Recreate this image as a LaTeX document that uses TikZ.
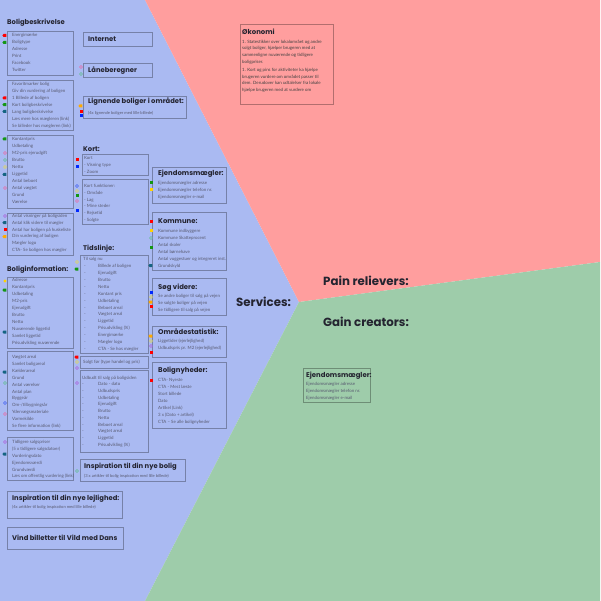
\documentclass[tikz,border=0pt]{standalone}
\usepackage{fontspec}
\setmainfont{Lato}
\newfontfamily\headfont{Poppins}
\usetikzlibrary{shapes.symbols}

\definecolor{bgblue}{RGB}{170,186,242}
\definecolor{bgpink}{RGB}{255,158,158}
\definecolor{bggreen}{RGB}{158,204,170}
\definecolor{itemc}{RGB}{88,90,112}
\definecolor{headc}{RGB}{36,36,48}
\definecolor{mred}{RGB}{255,0,0}
\definecolor{mgreen}{RGB}{20,150,20}
\definecolor{mblue}{RGB}{0,40,255}
\definecolor{myellow}{RGB}{255,210,0}
\definecolor{morange}{RGB}{255,170,0}
\definecolor{mteal}{RGB}{20,100,130}
\definecolor{mpink}{RGB}{230,110,170}
\definecolor{mmint}{RGB}{100,190,150}
\definecolor{mpale}{RGB}{225,215,90}
\definecolor{mpurple}{RGB}{170,100,220}
\definecolor{mlblue}{RGB}{70,100,240}

\tikzset{
  panel/.style={draw=black, draw opacity=0.3, line width=0.7pt, inner sep=0pt, anchor=north west},
  item/.style={anchor=base west, inner sep=0pt, text=itemc, font=\fontsize{4.4}{5}\selectfont},
  note/.style={item, font=\fontsize{4.1}{5}\selectfont},
  okotext/.style={item, text=black!75, font=\fontsize{4.4}{5}\selectfont},
  head/.style={anchor=base west, inner sep=0pt, text=headc, font=\headfont\bfseries\fontsize{6.8}{8}\selectfont},
  bighead/.style={head, font=\headfont\bfseries\fontsize{6.9}{8}\selectfont},
  hugehead/.style={head, font=\headfont\bfseries\fontsize{11.8}{13}\selectfont},
  flag/.style={shape=signal, signal to=west, signal pointer angle=100, fill=#1, minimum width=4pt, minimum height=3pt, inner sep=0pt},
  dot/.style={rectangle, fill=#1, minimum size=3pt, inner sep=0pt},
  ring/.style={circle, draw=#1, line width=0.5pt, minimum size=3pt, inner sep=0pt},
}

% box from (x1,y1) to (x2,y2)
\newcommand\panelbox[5]{\node[panel, minimum width={#4-#2}, minimum height={#5-#3}] (#1) at (#2,#3) {};}
% list of entries: name, x, centre of first line, line step, entries
\newcommand\itemlist[5]{\foreach \t [count=\i] in {#5} \node[item] (#1-\i) at (#2,{#3+1.5+#4*(\i-1)}) {\t};}
% dashes in front of indented entries
\newcommand\dashlist[5]{\foreach \i in {1,...,#5} \node[item] (#1-\i) at (#2,{#3+1.5+#4*(\i-1)}) {-};}

\begin{document}
\begin{tikzpicture}[x=1pt,y=-1pt]
\useasboundingbox (0,0) rectangle (600,601);

% three coloured fields
\fill[bgblue] (0,0) -- (145,0) -- (299,302) -- (145,601) -- (0,601) -- cycle;
\fill[bgpink] (145,0) -- (600,0) -- (600,262) -- (299,302) -- cycle;
\fill[bggreen] (299,302) -- (600,262) -- (600,601) -- (145,601) -- cycle;

% ---------- left column ----------
\node[head] (t-bb) at (7,24.3) {Boligbeskrivelse};
\panelbox{b1}{7}{31}{73}{75.5}
\itemlist{b1}{12}{35.3}{6.9}{Energimærke,Boligtype,Adresse,Print,Facebook,Twitter}
\panelbox{b2}{7}{80.5}{73}{130}
\itemlist{b2}{12}{84}{6.95}{Favoritmarker bolig,Giv din vurdering af boligen,1 Billede af boligen,Kort boligbeskrivelse,Lang boligbeskrivelse,Læs mere hos mægleren (link),Se billeder hos mægleren (link)}
\panelbox{b3}{7}{135.3}{73}{208.3}
\itemlist{b3}{12}{139}{7}{Kontantpris,Udbetaling,M2-pris ejerudgift,Brutto,Netto,Liggetid,Antal beboet,Antal vægtet,Grund,Værelse}
\panelbox{b4}{7}{212.7}{73}{255}
\itemlist{b4}{12}{216}{6.8}{Antal visninger på boligsiden,Antal klik videre til mægler,Antal har  boligen på huskeliste,Din vurdering af boligen,Mægler logo,CTA- Se boligen hos mægler}

\node[head] (t-bi) at (7,271.3) {Boliginformation:};
\panelbox{b5}{7}{277}{73}{347.5}
\itemlist{b5}{12}{280}{7}{Adresse,Kontantpris,Udbetaling,M2-pris,Ejerudgift,Brutto,Netto,Nuværende liggetid,Samlet liggetid,Prisudvikling nuværende}
\panelbox{b6}{7}{351}{73}{430}
\itemlist{b6}{12}{357}{6.9}{Vægtet areal,Samlet boligareal,Kælderareal,Grund,Antal værelser,Antal plan,Byggeår,Om-/tilbygningsår,Ydervægsmateriale,Varmekilde,Se flere information (link)}
\panelbox{b7}{7}{437}{73}{480}
\itemlist{b7}{12}{442.3}{6.8}{Tidligere salgspriser,(5 x tidligere salgsdatoer),Vurderingsdato,Ejendomsværdi,Grundværdi,Læs om offentlig vurdering (link)}

\panelbox{b8}{7}{491}{122}{518}
\node[head] (b8-h) at (12,500.3) {Inspiration til din nye lejlighed:};
\node[note] (b8-n) at (12,508.5) {(4x artikler til bolig inspiration med lille billede)};
\panelbox{b9}{7}{527}{123}{549}
\node[head] (b9-h) at (12,540.6) {Vind billetter til Vild med Dans};

% ---------- middle column ----------
\panelbox{net}{83}{32}{152}{46}
\node[head] (net-h) at (88,41.3) {Internet};
\panelbox{lan}{83}{63}{152}{77}
\node[head] (lan-h) at (88,72.3) {Låneberegner};
\panelbox{lig}{83}{96}{186}{118}
\node[head] (lig-h) at (88,104) {Lignende boliger i området:};
\node[note] (lig-n) at (88,114.2) {(4x lignende boliger med lille billede)};

\node[head] (t-kort) at (83,151.3) {Kort:};
\panelbox{kort}{82}{154}{148}{175}
\itemlist{kort}{84}{158.3}{6.9}{Kort,- Visning type,- Zoom}
\panelbox{kfun}{82}{179}{148}{224}
\itemlist{kfun}{84}{186}{6.8}{Kort funktioner:,- Område,- Lag,- Mine steder,- Rejsetid,- Solgte}

\node[head] (t-tl) at (83,250.6) {Tidslinje:};
\panelbox{tl}{80}{255}{148}{353}
\node[item] (tl-h) at (83,260.5) {Til salg nu};
\dashlist{tl-d}{84}{266}{6.92}{13}
\itemlist{tl}{98}{266}{6.92}{Billede af boligen,Ejerudgift,Brutto,Netto,Kontant pris,Udbetaling,Beboet areal,Vægtet areal,Liggetid,Prisudvikling (\%),Energimærke,Mægler logo,CTA - Se hos mægler}
\panelbox{solgt}{80}{356}{148}{368}
\node[item] (solgt-h) at (83,363.5) {Solgt før (type handel og pris)};
\panelbox{udb}{80}{370}{148}{452}
\node[item] (udb-h) at (82,379.2) {Udbudt til salg på boligsiden};
\dashlist{udb-d}{82}{384}{6.75}{10}
\itemlist{udb}{98}{384}{6.75}{Dato - dato,Udbudspris,Udbetaling,Ejerudgift,Brutto,Netto,Beboet areal,Vægtet areal,Liggetid,Prisudvikling (\%)}
\panelbox{insp}{80}{459}{185}{481}
\node[head] (insp-h) at (84,468.3) {Inspiration til din nye bolig};
\node[note] (insp-n) at (84,477.5) {(3 x artikler til bolig inspiration med lille billede)};

% ---------- third column ----------
\panelbox{em}{152}{167}{226}{203}
\node[bighead] (em-h) at (158,175.8) {Ejendomsmægler:};
\itemlist{em}{158}{183}{7}{Ejendomsmægler adresse,Ejendomsmægler telefon nr.,Ejendomsmægler e-mail}
\panelbox{kom}{152}{212}{226}{270}
\node[bighead] (kom-h) at (158,223.4) {Kommune:};
\itemlist{kom}{158}{230.7}{7}{Kommune indbyggere,Kommune Skatteprocent,Antal skoler,Antal børnehave,Antal vuggestuer og integreret inst.,Grundskyld}
\panelbox{sog}{152}{278}{226}{315}
\node[bighead] (sog-h) at (158,289.1) {Søg videre:};
\itemlist{sog}{158}{296}{7}{Se andre boliger til salg på vejen,Se solgte boliger på vejen,Se tidligere til salg på vejen}
\panelbox{omr}{152}{325.7}{226}{357}
\node[bighead] (omr-h) at (158,334.7) {Områdestatistik:};
\itemlist{omr}{158}{340.7}{7}{Liggetider (ejerlejlighed),Udbudspris pr. M2 (ejerlejlighed)}
\panelbox{bny}{152}{362}{226}{428}
\node[bighead] (bny-h) at (158,372.4) {Bolignyheder:};
\itemlist{bny}{158}{380}{6.95}{CTA-  Nyeste,CTA - Mest læste,Stort billede,Dato,Artikel (Link),3 x (Dato + artikel),CTA – Se alle bolignyheder}

% ---------- right side ----------
\panelbox{oko}{240}{24}{333}{104}
\node[bighead] (oko-h) at (242,34.6) {Økonomi};
\foreach \t/\yy [count=\i] in {1. Statestikker over lokalområet og andre/41.7,solgt boliger{,} hjælper brugeren med at/48.3,sammenligne nuværende og tidligere/55,boligpriser./62.3,1. Kort og pins for aktiviteter ka hjælpe/70,brugeren vurdere om området passer til/76.7,dem. Derudover kan udtalelser fra lokale/83.3,hjælpe brugeren med at vurdere om/90}
  \node[okotext] (oko-\i) at (242,{\yy+1.5}) {\t};

\node[hugehead] (services) at (236,306) {Services:};
\node[hugehead] (pain) at (323,285) {Pain relievers:};
\node[hugehead] (gain) at (323,326) {Gain creators:};

\panelbox{rem}{303}{368}{370}{402}
\node[bighead] (rem-h) at (306,377.4) {Ejendomsmægler:};
\itemlist{rem}{306}{384}{7}{Ejendomsmægler adresse,Ejendomsmægler telefon nr.,Ejendomsmægler e-mail}

% ---------- tag markers ----------
\foreach \x/\y/\c [count=\k] in {5/35.5/mred,5/42.5/mgreen,5/98/mred,5/104.7/mgreen,5/111.5/mteal,5/139/mgreen,5/174.5/mteal,5/222.7/mteal,5/236.7/morange,5/290/mgreen,5/332/mteal,5/372/mteal,5/454/mteal,81/106/morange,77/269/mgreen,77/357/mred,151/265.5/mteal,151/302/morange,151/336/morange}
  \node[flag=\c] (fl\k) at (\x,\y) {};
\foreach \x/\y/\c [count=\k] in {5/229.3/mred,81/111.7/mred,81/116/mblue,77/160/mred,77/167/mblue,77/196/mgreen,77/211/mblue,151/183/mgreen,151/190/myellow,151/222/mred,151/231/myellow,151/247/mgreen,151/292/mblue,151/306/mred,151/352/mred,151/380/mred}
  \node[dot=\c] (dt\k) at (\x,\y) {};
\foreach \x/\y/\c [count=\k] in {5/153/mpink,5/160/mmint,5/167/mpale,5/188/mpink,5/216/mpurple,5/383/mmint,5/403/mlblue,5/414/mpink,5/442/mpurple,81/67/mpink,81/74/mmint,77/186/mlblue,77/191/mpale,77/201/mpink,77/262/mpale,77/362/mpale,77/368/mpurple,77/383/mpurple,77/471/mmint,151/238/mmint,151/297/mpale,151/341/mpale,151/346/mpurple}
  \node[ring=\c] (rg\k) at (\x,\y) {};
\node[circle, fill=myellow, minimum size=3.2pt, inner sep=0pt] (yc1) at (5,281) {};
\end{tikzpicture}
\end{document}
